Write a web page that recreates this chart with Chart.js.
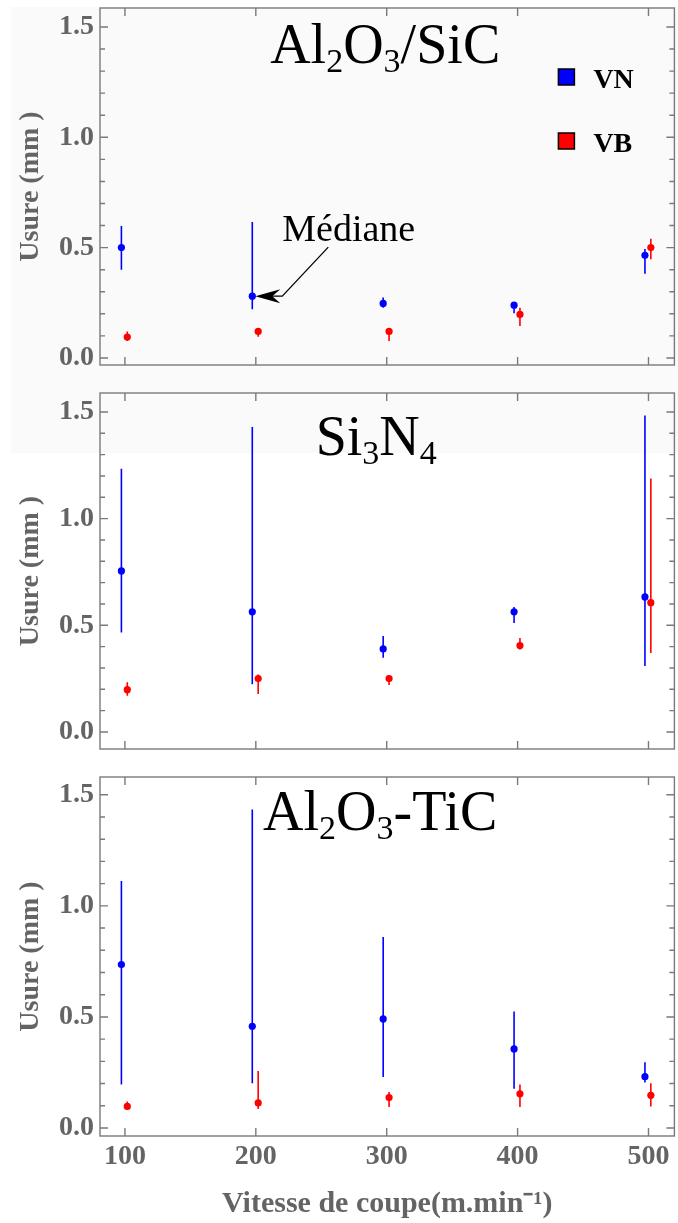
<!DOCTYPE html>
<html lang="fr">
<head>
<meta charset="utf-8">
<title>Usure VN / VB</title>
<script src="https://cdn.jsdelivr.net/npm/chart.js@4.4.1/dist/chart.umd.min.js"></script>
<style>
  body { margin: 0; background: #fff; width: 678px; height: 1223px; position: relative; overflow: hidden; }
  #fond { position: absolute; left: 11px; top: 7px; width: 667px; height: 446px; background: #fafafa; }
  .panneau { position: absolute; left: 0; width: 678px; }
</style>
</head>
<body>
<div id="fond"></div>
<div class="panneau" style="top:0;height:380px"><canvas id="graphe1"></canvas></div>
<div class="panneau" style="top:380px;height:380px"><canvas id="graphe2"></canvas></div>
<div class="panneau" style="top:760px;height:463px"><canvas id="graphe3"></canvas></div>

<script>
// Vitesses de coupe (m/min) et graduations
const vitesses = [100, 200, 300, 400, 500];
const graduationsY = [0, 0.5, 1.0, 1.5];

// Al2O3/SiC : médiane et extrémités des barres
const sicVN = [0.50, 0.28, 0.247, 0.239, 0.465];
const sicVNbas = [0.40, 0.221, 0.227, 0.203, 0.381];
const sicVNhaut = [0.598, 0.616, 0.274, 0.253, 0.494];
const sicVB = [0.095, 0.12, 0.12, 0.197, 0.50];
const sicVBbas = [0.077, 0.096, 0.077, 0.145, 0.447];
const sicVBhaut = [0.12, 0.133, 0.136, 0.227, 0.54];

// Si3N4
const nitVN = [0.755, 0.563, 0.389, 0.563, 0.633];
const nitVNbas = [0.466, 0.223, 0.348, 0.511, 0.309];
const nitVNhaut = [1.234, 1.43, 0.45, 0.586, 1.484];
const nitVB = [0.198, 0.25, 0.25, 0.405, 0.606];
const nitVBbas = [0.17, 0.178, 0.22, 0.386, 0.37];
const nitVBhaut = [0.233, 0.269, 0.267, 0.44, 1.188];

// Al2O3-TiC
const ticVN = [0.736, 0.458, 0.491, 0.356, 0.231];
const ticVNbas = [0.196, 0.202, 0.23, 0.177, 0.205];
const ticVNhaut = [1.112, 1.434, 0.86, 0.524, 0.296];
const ticVB = [0.097, 0.113, 0.137, 0.154, 0.147];
const ticVBbas = [0.082, 0.086, 0.094, 0.094, 0.097];
const ticVBhaut = [0.119, 0.257, 0.162, 0.196, 0.202];

const SERIF = "'Liberation Serif', 'Times New Roman', serif";
const GRIS = "#646464";
const BLEU = "#0000ff";
const ROUGE = "#ff0000";
// petit décalage horizontal entre VN et VB autour de chaque vitesse
const decalageVN = -2.7;
const decalageVB = 1.8;

Chart.defaults.font.family = SERIF;
Chart.defaults.animation = false;

// Cadre + graduations intérieures (style Mathematica)
const cadre = {
  id: "cadre",
  beforeDatasetsDraw(chart) {
    const { ctx, chartArea: a, scales: { x, y } } = chart;
    ctx.save();
    ctx.strokeStyle = "#7a7a7a";
    ctx.lineWidth = 1.4;
    ctx.strokeRect(a.left, a.top, a.width, a.height);
    ctx.beginPath();
    for (let i = 0; i <= 15; i++) {
      const py = y.getPixelForValue(i / 10);
      const l = i % 5 === 0 ? 8 : 5;
      ctx.moveTo(a.left, py); ctx.lineTo(a.left + l, py);
      ctx.moveTo(a.right, py); ctx.lineTo(a.right - l, py);
    }
    vitesses.forEach((v) => {
      const px = x.getPixelForValue(v);
      ctx.moveTo(px, a.bottom); ctx.lineTo(px, a.bottom - 8);
      ctx.moveTo(px, a.top); ctx.lineTo(px, a.top + 8);
    });
    ctx.stroke();
    ctx.restore();
  }
};

// Barres verticales min-max, dessinées sous les points
const barresErreur = {
  id: "barresErreur",
  beforeDatasetsDraw(chart) {
    const { ctx, scales: { x, y } } = chart;
    chart.data.datasets.forEach((ds) => {
      ctx.save();
      ctx.strokeStyle = ds.backgroundColor;
      ctx.lineWidth = 1.6;
      ctx.beginPath();
      ds.data.forEach((p, i) => {
        const px = x.getPixelForValue(p.x);
        ctx.moveTo(px, y.getPixelForValue(ds.bas[i]));
        ctx.lineTo(px, y.getPixelForValue(ds.haut[i]));
      });
      ctx.stroke();
      ctx.restore();
    });
  }
};

// Titre chimique avec indices
const formule = {
  id: "formule",
  afterDatasetsDraw(chart, args, opts) {
    if (!opts.morceaux) return;
    const { ctx, chartArea: a } = chart;
    const grand = "56px " + SERIF;
    const petit = "34px " + SERIF;
    ctx.save();
    let largeur = 0;
    opts.morceaux.forEach(([t, indice]) => {
      ctx.font = indice ? petit : grand;
      largeur += ctx.measureText(t).width;
    });
    let px = (a.left + a.right) / 2 + opts.dx - largeur / 2;
    const base = a.top + opts.dy;
    ctx.fillStyle = "#000";
    ctx.textBaseline = "alphabetic";
    ctx.textAlign = "left";
    opts.morceaux.forEach(([t, indice]) => {
      ctx.font = indice ? petit : grand;
      ctx.fillText(t, px, indice ? base + 9 : base);
      px += ctx.measureText(t).width;
    });
    ctx.restore();
  }
};

// Légende (VN / VB) et flèche « Médiane », premier graphique seulement
const legendeEtNote = {
  id: "legendeEtNote",
  afterDatasetsDraw(chart) {
    const { ctx, chartArea: a } = chart;
    ctx.save();
    chart.data.datasets.forEach((ds, i) => {
      const hy = a.top + 61 + i * 64;
      ctx.fillStyle = ds.backgroundColor;
      ctx.fillRect(a.right - 116, hy, 16, 16);
      ctx.strokeStyle = "#000";
      ctx.lineWidth = 1.5;
      ctx.strokeRect(a.right - 116, hy, 16, 16);
      ctx.fillStyle = "#000";
      ctx.font = "bold 28px " + SERIF;
      ctx.textBaseline = "alphabetic";
      ctx.fillText(ds.label, a.right - 81, hy + 19);
    });

    const pt = chart.getDatasetMeta(0).data[1];
    const bx = pt.x + 3, by = pt.y;
    ctx.strokeStyle = "#000";
    ctx.lineWidth = 1.3;
    ctx.beginPath();
    ctx.moveTo(bx + 73, by - 49);
    ctx.lineTo(bx + 27, by);
    ctx.lineTo(bx + 12, by);
    ctx.stroke();
    ctx.fillStyle = "#000";
    ctx.beginPath();
    ctx.moveTo(bx, by);
    ctx.lineTo(bx + 25, by - 7);
    ctx.lineTo(bx + 17, by);
    ctx.lineTo(bx + 25, by + 7);
    ctx.closePath();
    ctx.fill();
    ctx.font = "38px " + SERIF;
    ctx.fillText("Médiane", bx + 27, by - 55);
    ctx.restore();
  }
};

function serie(label, couleur, decalage, valeurs, bas, haut) {
  return {
    label: label,
    data: vitesses.map((v, i) => ({ x: v + decalage, y: valeurs[i] })),
    bas: bas,
    haut: haut,
    backgroundColor: couleur,
    borderColor: couleur,
    borderWidth: 0,
    pointRadius: 3.6,
    pointHoverRadius: 3.6
  };
}

function creerGraphique(id, cfg) {
  const ctx = document.getElementById(id).getContext("2d");
  const plugins = [cadre, barresErreur, formule];
  if (cfg.legende) plugins.push(legendeEtNote);

  return new Chart(ctx, {
    type: "scatter",
    data: {
      datasets: [
        serie("VN", BLEU, decalageVN, cfg.vn, cfg.vnBas, cfg.vnHaut),
        serie("VB", ROUGE, decalageVB, cfg.vb, cfg.vbBas, cfg.vbHaut)
      ]
    },
    options: {
      responsive: true,
      maintainAspectRatio: false,
      layout: { padding: { top: cfg.hautCadre, right: 2, left: 0, bottom: 0 } },
      plugins: {
        legend: { display: false },
        tooltip: { enabled: false },
        formule: { morceaux: cfg.titre, dx: cfg.dx, dy: cfg.dy }
      },
      scales: {
        x: {
          type: "linear",
          min: 80.95,
          max: 519.8,
          grid: { display: false, drawTicks: false },
          border: { display: false },
          afterFit: (s) => {
            s.height = cfg.hautX;
            s.paddingLeft = 0;
            s.paddingRight = 0;
          },
          ticks: {
            display: cfg.etiquettesX,
            stepSize: 100,
            includeBounds: false,
            autoSkip: false,
            maxRotation: 0,
            padding: 4,
            color: GRIS,
            font: { size: 28, weight: "bold" }
          },
          title: {
            display: cfg.etiquettesX,
            text: "Vitesse de coupe(m.min⁻¹)",
            color: GRIS,
            font: { size: 30, weight: "bold" },
            padding: { top: 4, bottom: 1 }
          }
        },
        y: {
          min: cfg.yMin,
          max: cfg.yMax,
          grid: { display: false, drawTicks: false },
          border: { display: false },
          afterFit: (s) => {
            s.width = 100;
            s.paddingTop = 0;
            s.paddingBottom = 0;
          },
          afterBuildTicks: (s) => { s.ticks = graduationsY.map((v) => ({ value: v })); },
          ticks: {
            padding: 6,
            color: GRIS,
            font: { size: 28, weight: "bold" },
            callback: (v) => v.toFixed(1)
          },
          title: {
            display: true,
            text: "Usure (mm )",
            color: GRIS,
            font: { size: 28, weight: "bold" },
            padding: { top: 14, bottom: 0 }
          }
        }
      }
    },
    plugins: plugins
  });
}

creerGraphique("graphe1", {
  vn: sicVN, vnBas: sicVNbas, vnHaut: sicVNhaut,
  vb: sicVB, vbBas: sicVBbas, vbHaut: sicVBhaut,
  yMin: -0.032, yMax: 1.586,
  hautCadre: 8, hautX: 15, etiquettesX: false, legende: true,
  titre: [["Al", 0], ["2", 1], ["O", 0], ["3", 1], ["/SiC", 0]], dx: -2, dy: 55
});

creerGraphique("graphe2", {
  vn: nitVN, vnBas: nitVNbas, vnHaut: nitVNhaut,
  vb: nitVB, vbBas: nitVBbas, vbHaut: nitVBhaut,
  yMin: -0.08, yMax: 1.589,
  hautCadre: 13, hautX: 11, etiquettesX: false, legende: false,
  titre: [["Si", 0], ["3", 1], ["N", 0], ["4", 1]], dx: -11, dy: 62
});

creerGraphique("graphe3", {
  vn: ticVN, vnBas: ticVNbas, vnHaut: ticVNhaut,
  vb: ticVB, vbBas: ticVBbas, vbHaut: ticVBhaut,
  yMin: -0.036, yMax: 1.58,
  hautCadre: 17, hautX: 87, etiquettesX: true, legende: false,
  titre: [["Al", 0], ["2", 1], ["O", 0], ["3", 1], ["-TiC", 0]], dx: -7, dy: 53
});
</script>
</body>
</html>
